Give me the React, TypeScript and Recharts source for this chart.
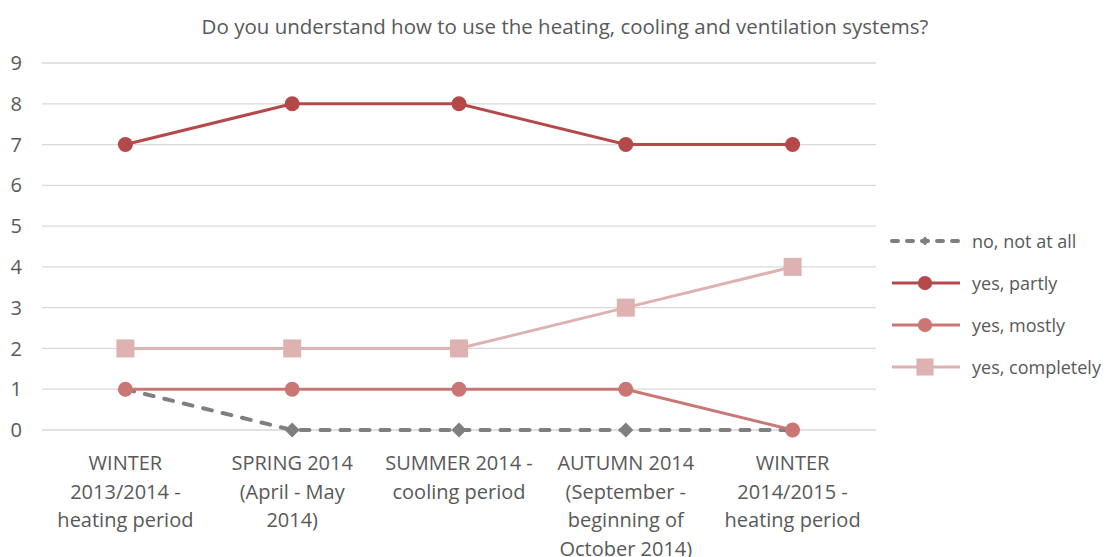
import React from "react";
import {
  LineChart,
  Line,
  XAxis,
  YAxis,
  CartesianGrid,
  Legend,
} from "recharts";

if (typeof document !== "undefined") document.body.style.margin = "0";

const TITLE = "Do you understand how to use the heating, cooling and ventilation systems?";

const periods = [
  "WINTER|2013/2014 -|heating period",
  "SPRING 2014|(April - May|2014)",
  "SUMMER 2014 -|cooling period",
  "AUTUMN 2014|(September -|beginning of|October 2014)",
  "WINTER|2014/2015 -|heating period",
];

const notAtAll = [1, 0, 0, 0, 0];
const partly = [7, 8, 8, 7, 7];
const mostly = [1, 1, 1, 1, 0];
const completely = [2, 2, 2, 3, 4];

const yTicks = [0, 1, 2, 3, 4, 5, 6, 7, 8, 9];
const boundaryTicks = [0, 1, 2, 3, 4, 5];

const data = periods.map((p, i) => ({
  period: p,
  no: notAtAll[i],
  partly: partly[i],
  mostly: mostly[i],
  completely: completely[i],
}));

const FONT = "'Open Sans', 'Liberation Sans', sans-serif";
const TEXT = "#595959";
const GRID = "#d9d9d9";

const SERIES = [
  { key: "no", name: "no, not at all", color: "#7f7f7f", shape: "diamond", dash: "9 11" },
  { key: "partly", name: "yes, partly", color: "#b5494a", shape: "circle" },
  { key: "mostly", name: "yes, mostly", color: "#c97674", shape: "circle" },
  { key: "completely", name: "yes, completely", color: "#deb2b1", shape: "square" },
];

function Marker({ cx, cy, shape, color, size = 1 }: { cx: number; cy: number; shape: string; color: string; size?: number }) {
  if (cx == null || cy == null) return null;
  if (shape === "square") {
    const h = 9 * size;
    return <rect x={cx - h} y={cy - h} width={h * 2} height={h * 2} fill={color} />;
  }
  if (shape === "diamond") {
    const h = 7.5 * size;
    return (
      <path
        d={`M${cx},${cy - h} L${cx + h},${cy} L${cx},${cy + h} L${cx - h},${cy} Z`}
        fill={color}
      />
    );
  }
  return <circle cx={cx} cy={cy} r={7.5 * size} fill={color} />;
}

function PeriodTick({ x, y, payload }: any) {
  const lines = String(payload.value).split("|");
  return (
    <text x={x} y={y} textAnchor="middle" fill={TEXT} fontSize={20} fontFamily={FONT}>
      {lines.map((l, i) => (
        <tspan key={i} x={x} dy={i === 0 ? 32 : 28.5}>
          {l}
        </tspan>
      ))}
    </text>
  );
}

function LegendContent() {
  return (
    <div style={{ fontFamily: FONT, fontSize: 18, color: TEXT, whiteSpace: "nowrap" }}>
      {SERIES.map((s) => (
        <div key={s.key} style={{ display: "flex", alignItems: "center", height: 42 }}>
          <svg width={76} height={20} style={{ marginRight: 8, flexShrink: 0 }}>
            <line
              x1={4}
              y1={10}
              x2={72}
              y2={10}
              stroke={s.color}
              strokeWidth={s.dash ? 4 : 3}
              strokeLinecap={s.dash ? "round" : "butt"}
              strokeDasharray={s.dash ? "6 9" : undefined}
            />
            <Marker cx={37} cy={10} shape={s.shape} color={s.color} size={s.dash ? 0.6 : 0.95} />
          </svg>
          <span>{s.name}</span>
        </div>
      ))}
    </div>
  );
}

export default function App() {
  return (
    <div style={{ position: "relative", width: 1107, height: 557, background: "#fff" }}>
      <div
        style={{
          position: "absolute",
          left: 0,
          top: 12,
          width: 1130,
          textAlign: "center",
          fontFamily: FONT,
          fontSize: 20.5,
          color: TEXT,
          zIndex: 2,
        }}
      >
        {TITLE}
      </div>
      <LineChart
        width={1107}
        height={557}
        data={data}
        margin={{ top: 63, right: 231, bottom: 17, left: 0 }}
      >
        <CartesianGrid vertical={false} stroke={GRID} strokeWidth={1.3} />
        <XAxis
          xAxisId="b"
          type="number"
          domain={[0, 5]}
          ticks={boundaryTicks}
          height={0}
          axisLine={{ stroke: GRID, strokeWidth: 1.3 }}
          tickLine={{ stroke: GRID, strokeWidth: 1.3 }}
          tickSize={5}
          tick={() => <g />}
        />
        <XAxis
          dataKey="period"
          scale="band"
          height={110}
          axisLine={false}
          tickLine={false}
          tick={<PeriodTick />}
          interval={0}
        />
        <YAxis
          width={42}
          domain={[0, 9]}
          ticks={yTicks}
          axisLine={false}
          tickLine={false}
          tickSize={0}
          tickMargin={20}
          tick={{ fill: TEXT, fontSize: 20, fontFamily: FONT }}
        />
        <Legend
          layout="horizontal"
          verticalAlign="middle"
          align="center"
          content={<LegendContent />}
          wrapperStyle={{ left: 888, top: 220, width: 219 }}
        />
        {SERIES.map((s) => (
          <Line
            key={s.key}
            dataKey={s.key}
            name={s.name}
            stroke={s.color}
            strokeWidth={s.dash ? 4 : 3}
            strokeLinecap={s.dash ? "round" : "butt"}
            strokeDasharray={s.dash}
            isAnimationActive={false}
            activeDot={false}
            dot={(p: any) => (
              <Marker key={`${s.key}-${p.index}`} cx={p.cx} cy={p.cy} shape={s.shape} color={s.color} />
            )}
          />
        ))}
      </LineChart>
    </div>
  );
}
